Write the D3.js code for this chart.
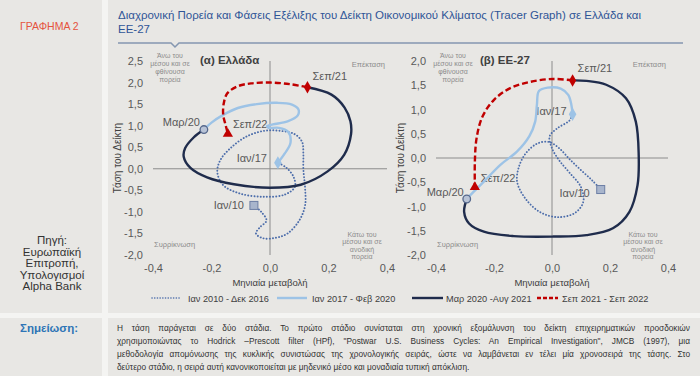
<!DOCTYPE html>
<html>
<head>
<meta charset="utf-8">
<script src="https://cdn.jsdelivr.net/npm/d3@7"></script>
<style>
body{margin:0;background:#f4f4f2;}
svg{display:block;font-family:"Liberation Sans",Arial,sans-serif;}
</style>
</head>
<body>
<svg id="chart"></svg>
<script>
// ---- data ----
var seriesNames = ["Ιαν 2010 - Δεκ 2016", "Ιαν 2017 - Φεβ 2020", "Μαρ 2020 -Αυγ 2021", "Σεπ 2021 - Σεπ 2022"]
var pointLabels = ["Ιαν/10", "Ιαν/17", "Μαρ/20", "Σεπ/21", "Σεπ/22"]
var xTicks = [-0.4, -0.2, 0, 0.2, 0.4]
var grTicksY = [2.5, 2, 1.5, 1, 0.5, 0, -0.5, -1, -1.5, -2]
var euTicksY = [2, 1.5, 1, 0.5, 0, -0.5, -1, -1.5, -2]

// (a) Greece : [monthly change, trend level]
var grDotted = [[-0.055,-0.85],[-0.03,-1.0],[-0.012,-1.2],[-0.035,-1.36],[-0.048,-1.5],[-0.025,-1.61],[0.02,-1.6],[0.06,-1.5],[0.1,-1.2],[0.12,-0.85],[0.12,-0.45],[0.114,0.0],[0.114,0.35],[0.11,0.62],[0.085,0.8],[0.035,0.88],[-0.02,0.88],[-0.08,0.75],[-0.135,0.48],[-0.17,0.2],[-0.18,-0.08],[-0.16,-0.38],[-0.1,-0.58],[-0.02,-0.65],[0.05,-0.6],[0.085,-0.42],[0.08,-0.18],[0.055,0.03],[0.027,0.14]]
var grLight = [[0.027,0.14],[0.05,0.35],[0.07,0.6],[0.062,0.86],[0.03,0.95],[-0.005,0.95],[-0.01,0.99],[0.01,1.03],[0.06,1.1],[0.095,1.24],[0.097,1.38],[0.075,1.49],[0.025,1.53],[-0.045,1.5],[-0.11,1.41],[-0.16,1.25],[-0.2,1.07],[-0.226,0.91]]
var grNavy = [[-0.226,0.91],[-0.262,0.72],[-0.29,0.48],[-0.295,0.28],[-0.272,0.02],[-0.215,-0.2],[-0.123,-0.36],[0.0,-0.44],[0.105,-0.37],[0.197,-0.06],[0.254,0.33],[0.277,0.8],[0.275,1.1],[0.255,1.42],[0.21,1.72],[0.128,1.89]]
var grRed = [[0.128,1.89],[0.071,1.96],[0.002,2.0],[-0.065,1.98],[-0.112,1.91],[-0.146,1.75],[-0.158,1.52],[-0.16,1.25],[-0.152,1.02],[-0.144,0.81]]

// (b) EU-27
var euDotted = [[0.168,-0.65],[0.14,-0.47],[0.1,-0.25],[0.06,-0.02],[0.025,0.2],[-0.01,0.33],[-0.05,0.3],[-0.09,0.1],[-0.115,-0.2],[-0.12,-0.5],[-0.09,-0.85],[-0.04,-1.12],[0.02,-1.22],[0.08,-1.13],[0.108,-0.9],[0.1,-0.6],[0.06,-0.3],[0.025,-0.05],[0.0,0.2],[-0.008,0.45],[0.02,0.62],[0.06,0.77],[0.071,0.9]]
var euLight = [[0.071,0.9],[0.067,1.09],[0.056,1.3],[0.03,1.43],[-0.015,1.45],[-0.045,1.38],[-0.052,1.1],[-0.058,0.75],[-0.078,0.45],[-0.121,0.13],[-0.178,-0.14],[-0.229,-0.45],[-0.269,-0.69],[-0.294,-0.845]]
var euNavy = [[-0.294,-0.845],[-0.303,-1.11],[-0.286,-1.35],[-0.235,-1.52],[-0.132,-1.61],[0.005,-1.62],[0.119,-1.59],[0.21,-1.45],[0.267,-1.11],[0.295,-0.56],[0.299,0.06],[0.289,0.75],[0.255,1.23],[0.187,1.51],[0.119,1.59],[0.071,1.6]]
var euRed = [[0.071,1.6],[0.005,1.63],[-0.075,1.57],[-0.144,1.44],[-0.2,1.2],[-0.24,0.85],[-0.26,0.41],[-0.266,-0.08],[-0.266,-0.6]]

var upperLeftText = ["Άνω του", "μέσου και σε", "φθίνουσα", "πορεία"]
var lowerRightText = ["Κάτω του", "μέσου και σε", "ανοδική", "πορεία"]
var sourceText = ["Πηγή:", "Ευρωπαϊκή", "Επιτροπή,", "Υπολογισμοί", "Alpha Bank"]
var noteLines = [
  "Η τάση παράγεται σε δύο στάδια. Το πρώτο στάδιο συνίσταται στη χρονική εξομάλυνση του δείκτη επιχειρηματικών προσδοκιών",
  "χρησιμοποιώντας το Hodrick –Prescott filter (HPf), \"Postwar U.S. Business Cycles: An Empirical Investigation\", JMCB (1997), μια",
  "μεθοδολογία απομόνωσης της κυκλικής συνιστώσας της χρονολογικής σειράς, ώστε να λαμβάνεται εν τέλει μία χρονοσειρά της τάσης. Στο",
  "δεύτερο στάδιο, η σειρά αυτή κανονικοποιείται με μηδενικό μέσο και μοναδιαία τυπική απόκλιση."
]

var screen = {width:700, height:376}
var greyText = "#595959"
var styles = [
  {color:"#4d6eab", width:1.9, dash:"0.1,3", cap:"round"},
  {color:"#9dc3e6", width:2.4, dash:null, cap:"butt"},
  {color:"#1f2c4c", width:2.4, dash:null, cap:"butt"},
  {color:"#c00000", width:2.4, dash:"6,3", cap:"butt"}
]

var locale = d3.formatLocale({decimal:",", thousands:".", grouping:[3], currency:["","€"], minus:"-"})
var fmt = locale.format(".1f")

var svg = d3.select("#chart")
    .attr("width",screen.width)
    .attr("height",screen.height)

// background boxes
svg.append("rect").attr("width",700).attr("height",376).attr("fill","#f4f4f2")
var boxes = [[0,0,102,313],[108,0,592,313],[0,318,102,58],[108,318,592,58]]
svg.selectAll("rect.box")
    .data(boxes)
    .enter()
    .append("rect")
    .attr("class","box")
    .attr("x",function(d){return d[0]})
    .attr("y",function(d){return d[1]})
    .attr("width",function(d){return d[2]})
    .attr("height",function(d){return d[3]})
    .attr("fill","#e8e7e4")

// header
svg.append("text")
    .attr("x",20).attr("y",30)
    .attr("fill","#e5533d")
    .attr("font-size",10.5)
    .text("ΓΡΑΦΗΜΑ 2")

svg.append("text")
    .attr("x",118).attr("y",19)
    .attr("fill","#2f5597")
    .attr("font-size",11.5)
    .text("Διαχρονική Πορεία και Φάσεις Εξέλιξης του Δείκτη Οικονομικού Κλίματος (Tracer Graph) σε Ελλάδα και")
svg.append("text")
    .attr("x",118).attr("y",33)
    .attr("fill","#2f5597")
    .attr("font-size",11.5)
    .text("ΕΕ-27")

svg.append("path")
    .attr("d","M118,43H171L175,47L179,43H683")
    .attr("fill","none")
    .attr("stroke","#8497b0")
    .attr("stroke-width",1.5)

// source, left column
svg.append("g")
    .selectAll("text")
    .data(sourceText)
    .enter()
    .append("text")
    .attr("x",52)
    .attr("y",function(d,i){return 244+i*11.5})
    .attr("text-anchor","middle")
    .attr("font-size",11.5)
    .attr("fill","#333")
    .text(function(d){return d})

var drawPanel = function(cfg)
{
    var x = d3.scaleLinear().domain([-0.4,0.4]).range(cfg.xRange)
    var y = d3.scaleLinear().domain(cfg.yDomain).range([255,61])
    var left = cfg.xRange[0], right = cfg.xRange[1]
    var g = svg.append("g").attr("id",cfg.id)

    // zero cross lines
    g.append("line")
        .attr("x1",x(-0.4)).attr("x2",x(0.4))
        .attr("y1",y(0)).attr("y2",y(0))
        .attr("stroke","#8c8c8c")
    g.append("line")
        .attr("x1",x(0)).attr("x2",x(0))
        .attr("y1",y(cfg.yDomain[1])).attr("y2",y(cfg.yDomain[0]))
        .attr("stroke","#8c8c8c")

    var yAxis = g.append("g")
        .attr("transform","translate("+left+",0)")
        .call(d3.axisLeft(y).tickValues(cfg.yTicks).tickSize(0).tickPadding(10).tickFormat(fmt))
    var xAxis = g.append("g")
        .attr("transform","translate(0,255)")
        .call(d3.axisBottom(x).tickValues(xTicks).tickSize(0).tickPadding(9).tickFormat(fmt))
    ;[yAxis,xAxis].forEach(function(a){
        a.select(".domain").remove()
        a.attr("font-family",null).attr("font-size",null)
        a.selectAll("text").attr("font-size",11).attr("fill",greyText)
    })

    // axis titles
    g.append("text")
        .attr("x",(left+right)/2).attr("y",286)
        .attr("text-anchor","middle")
        .attr("font-size",9.5).attr("fill","#404040")
        .text("Μηνιαία μεταβολή")
    g.append("text")
        .attr("transform","translate("+(left-32)+",158) rotate(-90)")
        .attr("text-anchor","middle")
        .attr("font-size",10).attr("fill","#404040")
        .text("Τάση του Δείκτη")

    // panel title
    g.append("text")
        .attr("x",left+cfg.titleDx).attr("y",64)
        .attr("font-size",11.5).attr("font-weight","bold").attr("fill","#404040")
        .text(cfg.title)

    // quadrant notes
    g.selectAll("text.ul")
        .data(upperLeftText).enter().append("text")
        .attr("class","ul")
        .attr("x",left+17).attr("y",function(d,i){return 57.5+i*8})
        .attr("text-anchor","middle").attr("font-size",7).attr("fill","#8c8c8c")
        .text(function(d){return d})
    g.selectAll("text.lr")
        .data(lowerRightText).enter().append("text")
        .attr("class","lr")
        .attr("x",right-25).attr("y",function(d,i){return 236.5+i*7.6})
        .attr("text-anchor","middle").attr("font-size",7).attr("fill","#8c8c8c")
        .text(function(d){return d})
    g.append("text")
        .attr("x",right-2).attr("y",67)
        .attr("text-anchor","end").attr("font-size",7.5).attr("fill","#8c8c8c")
        .text("Επέκταση")
    g.append("text")
        .attr("x",left+1).attr("y",247)
        .attr("font-size",7.5).attr("fill","#8c8c8c")
        .text("Συρρίκνωση")

    // point labels (under the lines)
    var anchors = [cfg.series[0][0], cfg.series[1][0], cfg.series[2][0], cfg.series[3][0], cfg.series[3][cfg.series[3].length-1]]
    g.selectAll("text.pl")
        .data(pointLabels).enter().append("text")
        .attr("class","pl")
        .attr("x",function(d,i){return x(anchors[i][0])+cfg.labelOff[i][0]})
        .attr("y",function(d,i){return y(anchors[i][1])+cfg.labelOff[i][1]})
        .attr("text-anchor",function(d,i){return cfg.labelOff[i][0]<0 ? "end" : "start"})
        .attr("font-size",11).attr("fill",greyText)
        .text(function(d){return d})

    // the four periods
    var line = d3.line()
        .x(function(d){return x(d[0])})
        .y(function(d){return y(d[1])})
        .curve(d3.curveCatmullRom.alpha(0.5))
    g.selectAll("path.series")
        .data(cfg.series).enter().append("path")
        .attr("class","series")
        .attr("d",line)
        .attr("fill","none")
        .attr("stroke",function(d,i){return styles[i].color})
        .attr("stroke-width",function(d,i){return styles[i].width})
        .attr("stroke-dasharray",function(d,i){return styles[i].dash})
        .attr("stroke-linecap",function(d,i){return styles[i].cap})

    // markers
    var pos = function(p){return "translate("+x(p[0])+","+y(p[1])+")"}
    g.append("rect")
        .attr("x",x(anchors[0][0])-4).attr("y",y(anchors[0][1])-4)
        .attr("width",8).attr("height",8)
        .attr("fill","#a8b5cc").attr("stroke","#6d7fa5")
    g.append("path")
        .attr("transform",pos(anchors[1]))
        .attr("d",d3.symbol(d3.symbolDiamond,50))
        .attr("fill","#9dc3e6")
    g.append("circle")
        .attr("cx",x(anchors[2][0])).attr("cy",y(anchors[2][1])).attr("r",3.8)
        .attr("fill","#b8c3d6").attr("stroke","#56688c").attr("stroke-width",1.3)
    g.append("path")
        .attr("transform",pos(anchors[3]))
        .attr("d",d3.symbol(d3.symbolDiamond,45))
        .attr("fill","#c00000")
    g.append("path")
        .attr("transform",pos(anchors[4]))
        .attr("d",d3.symbol(d3.symbolTriangle,45))
        .attr("fill","#c00000")
}

drawPanel({id:"greece", title:"(α) Ελλάδα", titleDx:47, xRange:[153,387], yDomain:[-2,2.5], yTicks:grTicksY,
    series:[grDotted,grLight,grNavy,grRed],
    labelOff:[[-10,4],[-11,-1],[-4,-4],[5,-7],[5,-6]]})
drawPanel({id:"eu", title:"(β) ΕΕ-27", titleDx:44, xRange:[436,668], yDomain:[-2,2], yTicks:euTicksY,
    series:[euDotted,euLight,euNavy,euRed],
    labelOff:[[-11,7],[-6,1],[-3,-3],[5,-8],[6,-5]]})

// legend
var legendX = [[152,180,188],[277,307,312],[412,443,446],[537,558,562]]
var lg = svg.append("g").attr("id","legend")
var items = lg.selectAll("g")
    .data(seriesNames).enter().append("g")
items.append("line")
    .attr("x1",function(d,i){return legendX[i][0]})
    .attr("x2",function(d,i){return legendX[i][1]})
    .attr("y1",298).attr("y2",298)
    .attr("stroke",function(d,i){return styles[i].color})
    .attr("stroke-width",function(d,i){return i==0 ? 1.6 : styles[i].width})
    .attr("stroke-dasharray",function(d,i){return i==0 ? "0.1,2.6" : (i==3 ? "4,2" : null)})
    .attr("stroke-linecap",function(d,i){return styles[i].cap})
items.append("text")
    .attr("x",function(d,i){return legendX[i][2]})
    .attr("y",301.5)
    .attr("font-size",9.2).attr("fill","#404040")
    .text(function(d){return d})

// note row
svg.append("text")
    .attr("x",20).attr("y",332)
    .attr("font-size",11.5).attr("font-weight","bold").attr("fill","#2e75b6")
    .text("Σημείωση:")
var note = svg.append("g").attr("id","note")
noteLines.forEach(function(t,i)
{
    var txt = note.append("text")
        .attr("x",117).attr("y",331+i*13)
        .attr("font-size",8.3).attr("fill","#333")
        .text(t)
    if (i < noteLines.length-1)
    {
        var len = txt.node().getComputedTextLength()
        var spaces = t.split(" ").length-1
        txt.attr("word-spacing",(573-len)/spaces)
    }
})
</script>
</body>
</html>
